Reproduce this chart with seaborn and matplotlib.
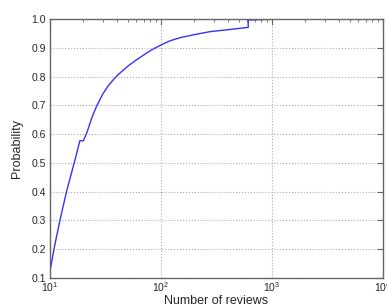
import numpy as np
import pandas as pd
import matplotlib
matplotlib.use("Agg")
import matplotlib.pyplot as plt
import seaborn as sns

# Cumulative distribution of review counts
reviews = [10, 11, 12.3, 14.1, 16.8, 18.6, 20.0, 21.4, 24, 26.3, 30, 33.5,
           38, 42, 51, 60, 70, 80, 100, 120, 148, 200, 275, 400, 610,
           610, 800, 1000, 1300, 1800]
probability = [0.122, 0.21, 0.30, 0.40, 0.51, 0.577, 0.577, 0.603, 0.66,
               0.697, 0.74, 0.768, 0.793, 0.81, 0.838, 0.858, 0.875, 0.89,
               0.91, 0.924, 0.935, 0.946, 0.956, 0.963, 0.971,
               0.9965, 0.998, 0.999, 1.0, 1.0]

df = pd.DataFrame({"Number of reviews": reviews, "Probability": probability})

sns.set_style("white")
plt.rcParams["font.family"] = ["Liberation Sans", "DejaVu Sans"]
plt.rcParams["mathtext.fontset"] = "custom"
plt.rcParams["mathtext.rm"] = "Liberation Sans"
plt.rcParams["mathtext.it"] = "Liberation Sans"

fig = plt.figure(figsize=(3.87, 3.07), dpi=100)
ax = fig.add_axes([0.129, 0.0945, 0.861, 0.8435])

sns.lineplot(data=df, x="Number of reviews", y="Probability", ax=ax,
             color="#3333ff", linewidth=1.0, sort=False, estimator=None)

ax.set_xscale("log")
ax.set_xlim(10, 10000)
ax.set_ylim(0.1, 1.0)
ax.set_yticks(np.arange(0.1, 1.01, 0.1))
ax.set_yticklabels([f"{v:.1f}" for v in np.arange(0.1, 1.01, 0.1)])

ax.grid(True, which="major", linestyle=":", color="#aaaaaa", linewidth=0.8)
ax.tick_params(which="both", direction="in", top=True, right=True,
               labelsize=7.5, color="#666666")
ax.tick_params(axis="x", pad=1.5)
ax.tick_params(axis="y", pad=3)
ax.tick_params(which="major", length=4)
ax.tick_params(which="minor", length=2)
for s in ax.spines.values():
    s.set_color("#666666")
    s.set_linewidth(1.0)

ax.set_xlabel("Number of reviews", fontsize=9, labelpad=1)
ax.set_ylabel("Probability", fontsize=9, labelpad=6)

fig.savefig("out.png", dpi=100)
